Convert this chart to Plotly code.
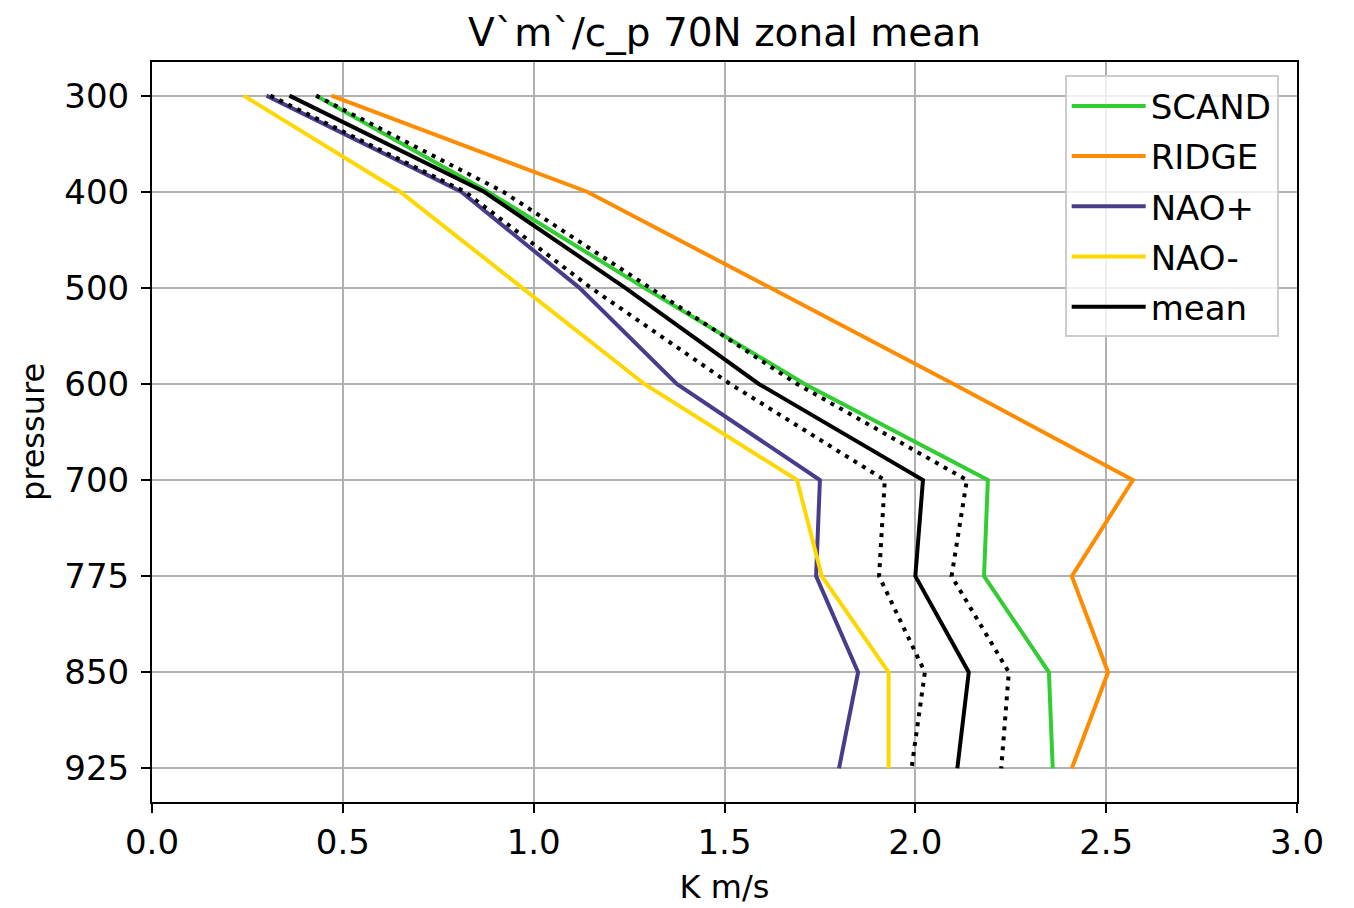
import plotly.graph_objects as go

levels = ["300", "400", "500", "600", "700", "775", "850", "925"]

scand = [0.43, 0.88, 1.29, 1.71, 2.19, 2.18, 2.35, 2.36]
ridge = [0.47, 1.14, 1.62, 2.10, 2.57, 2.41, 2.505, 2.41]
nao_plus = [0.30, 0.81, 1.12, 1.375, 1.75, 1.74, 1.85, 1.80]
nao_minus = [0.24, 0.65, 0.97, 1.29, 1.69, 1.755, 1.93, 1.93]
mean = [0.36, 0.87, 1.24, 1.59, 2.02, 2.00, 2.14, 2.11]
mean_lower = [0.31, 0.82, 1.15, 1.515, 1.92, 1.905, 2.025, 1.99]
mean_upper = [0.43, 0.92, 1.305, 1.69, 2.135, 2.095, 2.245, 2.225]

series = [
    ("SCAND", scand, "#32CD32"),
    ("RIDGE", ridge, "#FF8C00"),
    ("NAO+", nao_plus, "#483D8B"),
    ("NAO-", nao_minus, "#FFD700"),
    ("mean", mean, "#000000"),
]

fig = go.Figure()
for name, vals, col in series:
    fig.add_trace(go.Scatter(x=vals, y=levels, mode="lines", name=name,
                             legendgroup=name,
                             line=dict(color=col, width=4)))
for vals in (mean_lower, mean_upper):
    fig.add_trace(go.Scatter(x=vals, y=levels, mode="lines", showlegend=False,
                             line=dict(color="black", width=4, dash="4px,6px")))

font = "DejaVu Sans"
fig.update_layout(
    width=1354, height=908,
    margin=dict(l=144, r=65, t=54, b=114, autoexpand=False),
    paper_bgcolor="white", plot_bgcolor="white",
    font=dict(family=font, size=34, color="black"),
    title=dict(text="V`m`/c_p 70N zonal mean", x=0.5, xref="paper", xanchor="center",
               y=0.973, yref="container", yanchor="middle",
               font=dict(size=39)),
    xaxis=dict(range=[0, 3.0], tickvals=[0, 0.5, 1.0, 1.5, 2.0, 2.5, 3.0],
               ticktext=["0.0", "0.5", "1.0", "1.5", "2.0", "2.5", "3.0"],
               showgrid=True, gridcolor="#b0b0b0", gridwidth=2,
               showline=True, linecolor="black", linewidth=2, mirror=True,
               ticks="outside", ticklen=9, tickwidth=2, tickcolor="black",
               zeroline=False, tickfont=dict(size=34),
               title=dict(text="K m/s", standoff=15, font=dict(size=32))),
    yaxis=dict(type="category", categoryorder="array", categoryarray=levels,
               range=[7.35, -0.35],
               showgrid=True, gridcolor="#b0b0b0", gridwidth=2,
               showline=True, linecolor="black", linewidth=2, mirror=True,
               ticks="outside", ticklen=9, tickwidth=2, tickcolor="black",
               zeroline=False, tickfont=dict(size=34), ticklabelstandoff=5,
               title=dict(text="pressure", standoff=10, font=dict(size=32))),
    legend=dict(x=0.984, xanchor="right", y=0.982, yanchor="top",
                bgcolor="rgba(255,255,255,0.8)", bordercolor="#cccccc",
                borderwidth=2, traceorder="grouped", tracegroupgap=3,
                itemwidth=74, font=dict(size=34)),
)

fig.write_html("out.html")
